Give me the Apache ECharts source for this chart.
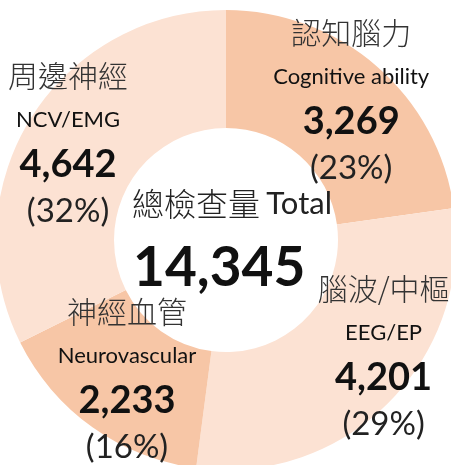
<!DOCTYPE html>
<html>
<head>
<meta charset="utf-8">
<script src="https://cdn.jsdelivr.net/npm/echarts@6/dist/echarts.min.js"></script>
<style>
  html, body { margin: 0; padding: 0; background: #fff; }
  #chart { width: 451px; height: 465px; }
</style>
</head>
<body>
<div id="chart"></div>
<script>
// data, clockwise from 12 o'clock
const zhNames = ['認知腦力', '腦波/中樞', '神經血管', '周邊神經']
const enNames = ['Cognitive ability', 'EEG/EP', 'Neurovascular', 'NCV/EMG']
const counts = [3269, 4201, 2233, 4642]
const sliceColors = ['#F7C6A6', '#FCE2D3', '#F7C6A6', '#FCE2D3']

// label nudges from the default inside spot
const labelShift = [[11, -7], [34, -5], [2, -1], [-10, -4]]

const total = counts.reduce((a, b) => a + b, 0)
const fmt = n => n.toLocaleString('en-US')

const latin = 'Lato, "Noto Sans CJK TC", sans-serif'
const cjk = '"Noto Sans CJK TC", Lato, sans-serif'

const chart = echarts.init(document.getElementById('chart'))

chart.setOption({
  animation: false,
  graphic: [
    {
      type: 'text',
      left: 132,
      top: 188,
      z: 100,
      style: {
        text: '{zh|總檢查量} {en|Total}',
        rich: {
          zh: { fontFamily: cjk, fontSize: 32, fill: '#222', fontWeight: 300 },
          en: { fontFamily: latin, fontSize: 31, fill: '#222', padding: [0, 0, 0, 3] },
        },
      },
    },
    {
      type: 'text',
      left: 133,
      top: 241,
      z: 100,
      style: {
        text: fmt(total),
        fontFamily: latin,
        fontWeight: 'bold',
        fontSize: 55,
        fill: '#111',
      },
    },
  ],
  series: [
    {
      type: 'pie',
      center: [226, 240],
      radius: [112, 230],
      startAngle: 90,
      clockwise: true,
      avoidLabelOverlap: false,
      emphasis: { disabled: true },
      itemStyle: { borderWidth: 0 },
      label: {
        show: true,
        position: 'inside',
        formatter: p => {
          const i = p.dataIndex
          const pct = Math.round((counts[i] / total) * 100)
          return `{zh|${zhNames[i]}}\n{en|${enNames[i]}}\n{num|${fmt(counts[i])}}\n{pct|(${pct}%)}`
        },
        rich: {
          zh: { fontFamily: cjk, fontSize: 30, color: '#333', lineHeight: 44, align: 'center', fontWeight: 300 },
          en: { fontFamily: latin, fontSize: 22, color: '#111', lineHeight: 44, align: 'center' },
          num: { fontFamily: latin, fontSize: 38, fontWeight: 'bold', color: '#111', lineHeight: 46, align: 'center' },
          pct: { fontFamily: latin, fontSize: 33, color: '#222', lineHeight: 48, align: 'center' },
        },
      },
      labelLine: { show: false },
      labelLayout: p => ({ dx: labelShift[p.dataIndex][0], dy: labelShift[p.dataIndex][1] }),
      data: counts.map((v, i) => ({
        name: zhNames[i],
        value: v,
        itemStyle: { color: sliceColors[i] },
      })),
    },
  ],
})
</script>
</body>
</html>
